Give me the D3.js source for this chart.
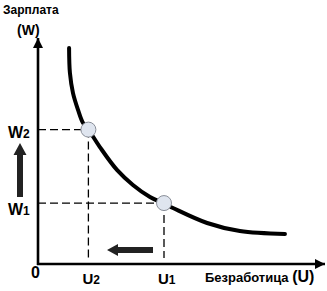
<!DOCTYPE html>
<html>
<head>
<meta charset="utf-8">
<script src="https://cdn.jsdelivr.net/npm/d3@7"></script>
<style>
  body { margin: 0; background: #fff; }
  text { font-family: "Liberation Sans", Arial, sans-serif; font-weight: bold; fill: #000; }
</style>
</head>
<body>
<svg id="chart" width="327" height="291"></svg>
<script>
// Phillips curve (unemployment U, wage W)
var curveU = [1.11, 1.14, 1.25, 1.43, 1.61, 1.8, 2.21, 2.82, 3.39, 4.0, 4.46, 4.82, 6.04, 7.21, 8.82];
var curveW = [9.64, 8.53, 7.63, 6.88, 6.29, 6.0, 5.22, 4.2, 3.53, 2.99, 2.72, 2.5, 1.83, 1.47, 1.34];

// the two marked points
var pointNames = ["2", "1"];
var pointU = [1.8, 4.5];
var pointW = [6.0, 2.72];

var axisLabels = ["Зарплата", "(W)", "Безработица", "(U)", "0"];

var svg = d3.select("#chart");

// x: 0..10 over 38..318, y: 0..10 over 264..40
var x = d3.scaleLinear().domain([0, 10]).range([38, 318]);
var y = d3.scaleLinear().domain([0, 10]).range([264, 40]);

// arrow heads
var defs = svg.append("defs");
defs.append("marker")
    .attr("id", "axisHead")
    .attr("viewBox", "0 0 10 10")
    .attr("refX", 10).attr("refY", 5)
    .attr("markerWidth", 11).attr("markerHeight", 10)
    .attr("markerUnits", "userSpaceOnUse")
    .attr("orient", "auto")
    .append("path").attr("d", "M0,0 L10,5 L0,10 z").attr("fill", "#000");

// dashed guides
var guides = svg.append("g")
    .attr("stroke", "#000")
    .attr("stroke-width", 1.3)
    .attr("stroke-dasharray", "8,4")
    .attr("fill", "none");
pointU.forEach(function (u, i) {
    guides.append("line")
        .attr("x1", x(0)).attr("x2", x(u))
        .attr("y1", y(pointW[i])).attr("y2", y(pointW[i]));
    guides.append("line")
        .attr("x1", x(u)).attr("x2", x(u))
        .attr("y1", y(pointW[i])).attr("y2", y(0) - 6);
});

// axes
svg.append("line")
    .attr("x1", x(0)).attr("y1", y(0) + 1)
    .attr("x2", x(0)).attr("y2", 38)
    .attr("stroke", "#000").attr("stroke-width", 2.6)
    .attr("marker-end", "url(#axisHead)");
svg.append("line")
    .attr("x1", x(0) - 1).attr("y1", y(0))
    .attr("x2", 325).attr("y2", y(0))
    .attr("stroke", "#000").attr("stroke-width", 2.6)
    .attr("marker-end", "url(#axisHead)");

// curve
var line = d3.line()
    .x(function (d) { return x(d[0]); })
    .y(function (d) { return y(d[1]); })
    .curve(d3.curveCatmullRom.alpha(0.5));
svg.append("path")
    .datum(d3.zip(curveU, curveW))
    .attr("d", line)
    .attr("fill", "none")
    .attr("stroke", "#000")
    .attr("stroke-width", 4)
    .attr("stroke-linecap", "round");

// points
svg.selectAll("circle.pt")
    .data(d3.zip(pointU, pointW))
    .enter().append("circle")
    .attr("class", "pt")
    .attr("cx", function (d) { return x(d[0]); })
    .attr("cy", function (d) { return y(d[1]); })
    .attr("r", 7.5)
    .attr("fill", "#dfe5ef")
    .attr("stroke", "#8a8f99")
    .attr("stroke-width", 1);

// W labels
pointW.forEach(function (w, i) {
    var t = svg.append("text")
        .attr("x", 8)
        .attr("y", y(w) + (i === 0 ? 8 : 12))
        .style("font-size", "16px");
    t.append("tspan").text("W");
    t.append("tspan").style("font-size", "12px").text(pointNames[i]);
});

// U labels
pointU.forEach(function (u, i) {
    var t = svg.append("text")
        .attr("x", x(u) - 6)
        .attr("y", 284)
        .style("font-size", "15px");
    t.append("tspan").text("U");
    t.append("tspan").style("font-size", "12px").text(pointNames[i]);
});

// axis titles
svg.append("text").attr("x", 3).attr("y", 14).style("font-size", "12px").text(axisLabels[0]);
svg.append("text").attr("x", 17).attr("y", 35).style("font-size", "14px").text(axisLabels[1]);
svg.append("text").attr("x", 31).attr("y", 278).style("font-size", "16px").text(axisLabels[4]);
var tx = svg.append("text").attr("x", 205).attr("y", 282).style("font-size", "13px");
tx.append("tspan").text(axisLabels[2] + " ");
tx.append("tspan").style("font-size", "16px").text(axisLabels[3]);

// shift arrows
function blockArrow(x0, y0, x1, y1, shaft, head, headLen) {
    var ang = Math.atan2(y1 - y0, x1 - x0);
    var len = Math.hypot(x1 - x0, y1 - y0);
    var p = [[0, -shaft / 2], [len - headLen, -shaft / 2], [len - headLen, -head / 2],
             [len, 0], [len - headLen, head / 2], [len - headLen, shaft / 2], [0, shaft / 2]];
    svg.append("path")
        .attr("d", "M" + p.map(function (q) { return q.join(","); }).join("L") + "Z")
        .attr("transform", "translate(" + x0 + "," + y0 + ") rotate(" + (ang * 180 / Math.PI) + ")")
        .attr("fill", "#222");
}
blockArrow(20, 197, 20, 143, 6, 13, 12);
blockArrow(153, 250, 107, 250, 6, 12, 11);
</script>
</body>
</html>
